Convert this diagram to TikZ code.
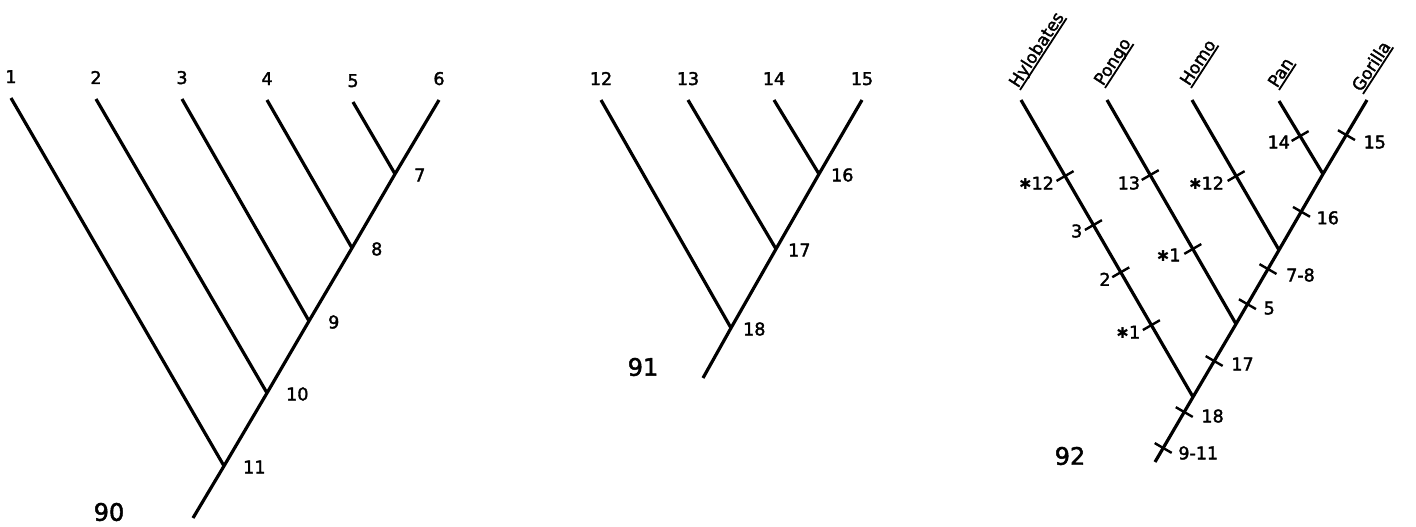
\documentclass[tikz,border=0pt]{standalone}
\usepackage{fontspec}
\setmainfont{DejaVu Sans}[FakeBold=2]
\newfontfamily\starfont{DejaVu Sans}
\usetikzlibrary{calc}
\newcommand\mytickL[1]{\draw[tk] ($(#1)+(-8.5,4.9)$) -- ($(#1)+(8.5,-4.9)$);}
\newcommand\mytickR[1]{\draw[tk] ($(#1)+(-8.5,-4.9)$) -- ($(#1)+(8.5,4.9)$);}
\newcommand\mystar{{\starfont\fontsize{15}{15}\selectfont ✱}}
\newcommand\myul[1]{\draw[ul] (#1.south west) -- (#1.south east);}
\begin{document}
\begin{tikzpicture}[x=1pt,y=-1pt,
  br/.style={line width=3.2pt},
  tk/.style={line width=2.4pt},
  ul/.style={line width=1.8pt},
  num/.style={font=\fontsize{17.5}{17.5}\selectfont, inner sep=0pt},
  figno/.style={font=\fontsize{24}{24}\selectfont, inner sep=0pt},
  taxon/.style={font=\fontsize{17}{17}\selectfont, inner xsep=0pt, inner ysep=2.2pt, text depth=0pt, rotate=57, anchor=south west},
]
\useasboundingbox (0,0) rectangle (1416,527);

% ---------------- Tree 90 ----------------
\coordinate (a1) at (11,98);
\coordinate (a2) at (96,99);
\coordinate (a3) at (182,99);
\coordinate (a4) at (267,100);
\coordinate (a5) at (353,102);
\coordinate (a6) at (439,100);
\coordinate (a7) at (395,174);
\coordinate (a8) at (352,248);
\coordinate (a9) at (309,321);
\coordinate (a10) at (267,393);
\coordinate (a11) at (224,466);
\coordinate (a0) at (193,518);
\draw[br] (a0) -- (a11) -- (a10) -- (a9) -- (a8) -- (a7) -- (a6);
\draw[br] (a1) -- (a11);
\draw[br] (a2) -- (a10);
\draw[br] (a3) -- (a9);
\draw[br] (a4) -- (a8);
\draw[br] (a5) -- (a7);
\foreach \i in {1,...,6} {\node[num, anchor=base] (la\i) at ($(a\i)+(0,-15)$) {\i};}
\foreach \i in {7,...,11} {\node[num, anchor=west] (la\i) at ($(a\i)+(19,1)$) {\i};}
\node[figno] (f90) at (109,512) {90};

% ---------------- Tree 91 ----------------
\coordinate (b12) at (601,100);
\coordinate (b13) at (688,100);
\coordinate (b14) at (774,100);
\coordinate (b15) at (862,100);
\coordinate (b16) at (819,174);
\coordinate (b17) at (776,249);
\coordinate (b18) at (731,328);
\coordinate (b0) at (703,378);
\draw[br] (b0) -- (b18) -- (b17) -- (b16) -- (b15);
\draw[br] (b12) -- (b18);
\draw[br] (b13) -- (b17);
\draw[br] (b14) -- (b16);
\foreach \i in {12,...,15} {\node[num, anchor=base] (lb\i) at ($(b\i)+(0,-15)$) {\i};}
\foreach \i in {16,17,18} {\node[num, anchor=west] (lb\i) at ($(b\i)+(12,1)$) {\i};}
\node[figno] (f91) at (643,367) {91};

% ---------------- Tree 92 ----------------
\coordinate (cH) at (1021,100);
\coordinate (cP) at (1107,100);
\coordinate (cHo) at (1192,100);
\coordinate (cPa) at (1279,101);
\coordinate (cG) at (1367,100);
\coordinate (cPG) at (1323,174);
\coordinate (cHO) at (1279,250);
\coordinate (cPO) at (1236,324);
\coordinate (cHY) at (1193,397);
\coordinate (c0) at (1155,462);
\draw[br] (c0) -- (cHY) -- (cPO) -- (cHO) -- (cPG) -- (cG);
\draw[br] (cH) -- (cHY);
\draw[br] (cP) -- (cPO);
\draw[br] (cHo) -- (cHO);
\draw[br] (cPa) -- (cPG);

\node[taxon] (tH) at (1020,90) {Hylobates};
\node[taxon] (tP) at (1105,88) {Pongo};
\node[taxon] (tHo) at (1191,88) {Homo};
\node[taxon] (tPa) at (1279,90) {Pan};
\node[taxon] (tG) at (1363,94) {Gorilla};
\foreach \t in {tH,tP,tHo,tPa,tG} {\myul{\t}}

% ticks on left branches
\coordinate (h12) at ($(cH)!0.256!(cHY)$);
\coordinate (h3) at ($(cH)!0.421!(cHY)$);
\coordinate (h2) at ($(cH)!0.58!(cHY)$);
\coordinate (h1) at ($(cH)!0.758!(cHY)$);
\coordinate (p13) at ($(cP)!0.335!(cPO)$);
\coordinate (p1) at ($(cP)!0.665!(cPO)$);
\coordinate (o12) at ($(cHo)!0.507!(cHO)$);
\coordinate (n14) at ($(cPa)!0.48!(cPG)$);
\foreach \t in {h12,h3,h2,h1,p13,p1,o12,n14} {\mytickL{\t}}
\node[num, anchor=east] (lh12) at ($(h12)+(-11,7)$) {\mystar12};
\node[num, anchor=east] (lh3) at ($(h3)+(-11,6)$) {3};
\node[num, anchor=east] (lh2) at ($(h2)+(-10,7)$) {2};
\node[num, anchor=east] (lh1) at ($(h1)+(-11,7)$) {\mystar1};
\node[num, anchor=east] (lp13) at ($(p13)+(-10,8)$) {13};
\node[num, anchor=east] (lp1) at ($(p1)+(-12,6)$) {\mystar1};
\node[num, anchor=east] (lo12) at ($(o12)+(-12,7)$) {\mystar12};
\node[num, anchor=east] (ln14) at ($(n14)+(-10,6)$) {14};

% ticks on the spine
\coordinate (s15) at ($(c0)!0.903!(cG)$);
\coordinate (s16) at ($(c0)!0.691!(cG)$);
\coordinate (s78) at ($(c0)!0.533!(cG)$);
\coordinate (s5) at ($(c0)!0.436!(cG)$);
\coordinate (s17) at ($(c0)!0.279!(cG)$);
\coordinate (s18) at ($(c0)!0.138!(cG)$);
\coordinate (s911) at ($(c0)!0.0387!(cG)$);
\foreach \t in {s15,s16,s78,s5,s17,s18,s911} {\mytickR{\t}}
\node[num, anchor=west] (ls15) at ($(s15)+(17,7)$) {15};
\node[num, anchor=west] (ls16) at ($(s16)+(15,6)$) {16};
\node[num, anchor=west] (ls78) at ($(s78)+(18,6)$) {7-8};
\node[num, anchor=west] (ls5) at ($(s5)+(16,4)$) {5};
\node[num, anchor=west] (ls17) at ($(s17)+(17,3)$) {17};
\node[num, anchor=west] (ls18) at ($(s18)+(17,4)$) {18};
\node[num, anchor=west] (ls911) at ($(s911)+(15,5)$) {9-11};
\node[figno] (f92) at (1070,456) {92};
\end{tikzpicture}
\end{document}
